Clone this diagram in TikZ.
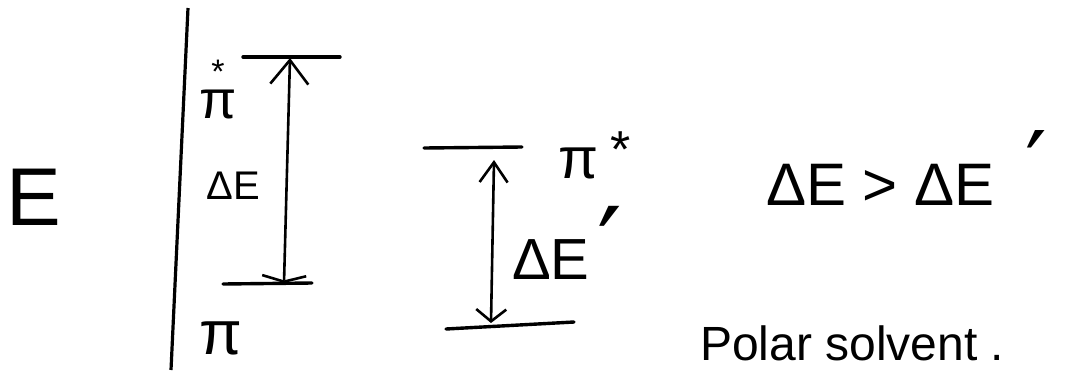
\documentclass[tikz,border=0pt]{standalone}
\usepackage{fontspec}
\setmainfont{Liberation Sans}
\newfontfamily\dvfont{DejaVu Sans}
\usetikzlibrary{arrows.meta}
\begin{document}
\begin{tikzpicture}[x=1pt,y=-1pt,
  lvl/.style={line width=3.4pt,line cap=round},
  axis/.style={line width=3.2pt},
  shaft/.style={line width=2.6pt},
  lbl/.style={inner sep=0pt,font=\fontsize{#1}{#1}\selectfont},
]
\useasboundingbox (0,0) rectangle (1078,370);
% axis
\coordinate (axT) at (188,8);
\coordinate (axB) at (171,370);
\draw[axis] (axT) -- (axB);
\node[lbl=82,anchor=center] (E) at (34,197) {E};
% left levels
\coordinate (L1a) at (243,57);
\coordinate (L1b) at (340,57);
\coordinate (L0a) at (223,284);
\coordinate (L0b) at (312,283);
\draw[lvl] (L1a) -- (L1b);
\draw[lvl] (L0a) -- (L0b);
\coordinate (A1t) at (290,58);
\coordinate (A1b) at (284,283);
\draw[shaft,{Straight Barb[length=6pt,width=44pt,line width=2.6pt]}-{Straight Barb[length=24pt,width=38pt,line width=2.6pt]}] (A1b) -- (A1t);
\node[lbl=54,anchor=base] (pistarL) at (218,118) {\shortstack{\fontsize{34}{34}\selectfont *\\[3pt]π}};
\node[lbl=40] (dEL) at (233,186) {ΔE};
\node[lbl=62] (piL) at (221,338) {π};
% middle levels
\coordinate (M1a) at (424,148);
\coordinate (M1b) at (522,147);
\coordinate (M0a) at (446,329);
\coordinate (M0b) at (574,322);
\draw[lvl] (M1a) -- (M1b);
\draw[lvl] (M0a) -- (M0b);
\coordinate (A2t) at (494,160);
\coordinate (A2b) at (491,323);
\draw[shaft,{Straight Barb[length=12pt,width=30pt,line width=2.6pt]}-{Straight Barb[length=20pt,width=28pt,line width=2.6pt]}] (A2b) -- (A2t);
\node[lbl=58] (piM) at (578,163) {π};
\node[lbl=52] (starM) at (621,150) {*};
\node[lbl=58,anchor=base west] (dEM) at (512,279) {ΔE};
\node[lbl=110,anchor=north] (primeM) at (610,206) {\dvfont ′};
% relation
\node[lbl=60,anchor=base west] (rel) at (766,205) {ΔE > ΔE};
\node[lbl=96,anchor=north] (primeR) at (1036,130) {\dvfont ′};
\node[lbl=48,anchor=base west] (polar) at (700,360) {Polar solvent .};
\end{tikzpicture}
\end{document}
